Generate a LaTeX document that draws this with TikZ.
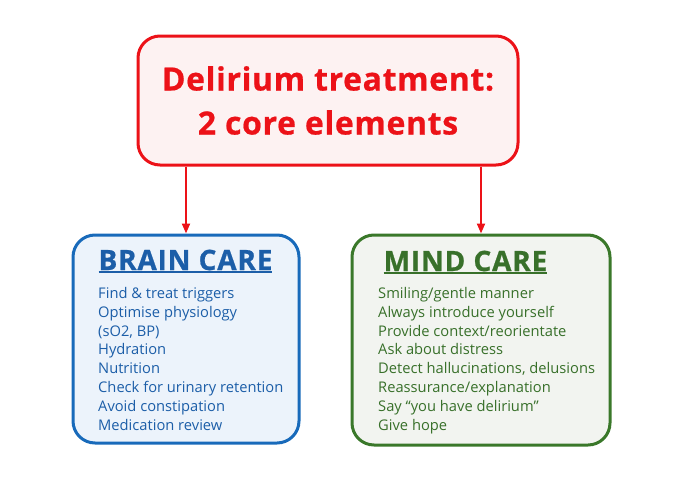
\documentclass[tikz,border=0pt]{standalone}
\usepackage{fontspec}
\setmainfont{Open Sans}
\usetikzlibrary{positioning,arrows.meta}

\definecolor{delred}{RGB}{236,18,24}
\definecolor{delpink}{RGB}{253,242,242}
\definecolor{brainblue}{RGB}{24,106,186}
\definecolor{braintext}{RGB}{28,94,168}
\definecolor{brainfill}{RGB}{236,243,251}
\definecolor{mindgreen}{RGB}{58,120,42}
\definecolor{mindtext}{RGB}{56,112,42}
\definecolor{mindfill}{RGB}{242,244,240}

% thick underline for the box titles
\newcommand{\ulhead}[1]{\setbox0\hbox{#1}\rlap{\copy0}\rule[-2.5pt]{\wd0}{2pt}}

\begin{document}
\begin{tikzpicture}[x=1pt,y=-1pt]
    \tikzstyle{container} = [rectangle, draw, line width=3pt, rounded corners=22pt,
        inner sep=0pt]
    \tikzstyle{containertitle} = [font=\bfseries\fontsize{28}{30}\selectfont
        \addfontfeatures{LetterSpace=3,FakeBold=0.8}, inner sep=0pt, anchor=base]
    \tikzstyle{items} = [align=left, font=\fontsize{14.7}{18.86}\selectfont,
        inner sep=0pt, anchor=north west]
    \tikzstyle{line} = [draw=delred, line width=2pt,
        -{Triangle[length=10pt,width=8pt]}]

    \useasboundingbox (0,0) rectangle (680,485);

    % Title
    \node[container, draw=delred, fill=delpink, minimum width=380pt,
        minimum height=129pt, text=delred, align=center,
        font=\bfseries\fontsize{32}{44}\selectfont
        \addfontfeatures{LetterSpace=2,FakeBold=0.6}]
        (title) at (328,100.5) {Delirium treatment:\\2 core elements};
    % Brain care
    \node[container, draw=brainblue, fill=brainfill, minimum width=226pt,
        minimum height=208pt] (brain) at (186,339) {};
    \node[containertitle, text=braintext] (brainname) at (185.5,270)
        {\ulhead{BRAIN CARE}};
    \node[items, text=braintext] (brainlist) at (98,287) {Find \& treat
        triggers\\Optimise physiology\\(sO2, BP)\\Hydration\\Nutrition\\Check
        for urinary retention\\Avoid constipation\\Medication review};
    % Mind care
    \node[container, draw=mindgreen, fill=mindfill, minimum width=258pt,
        minimum height=210pt] (mind) at (481,340) {};
    \node[containertitle, text=mindtext] (mindname) at (465.5,271)
        {\ulhead{MIND CARE}};
    \node[items, text=mindtext] (mindlist) at (378,287) {Smiling/gentle
        manner\\Always introduce yourself\\Provide context/reorientate\\Ask
        about distress\\Detect hallucinations, delusions\\Reassurance/explanation\\Say
        “you have delirium”\\Give hope};

    \draw[line] (title.south -| brain.north) -- (brain.north);
    \draw[line] (title.south -| mind.north) -- (mind.north);
\end{tikzpicture}
\end{document}
